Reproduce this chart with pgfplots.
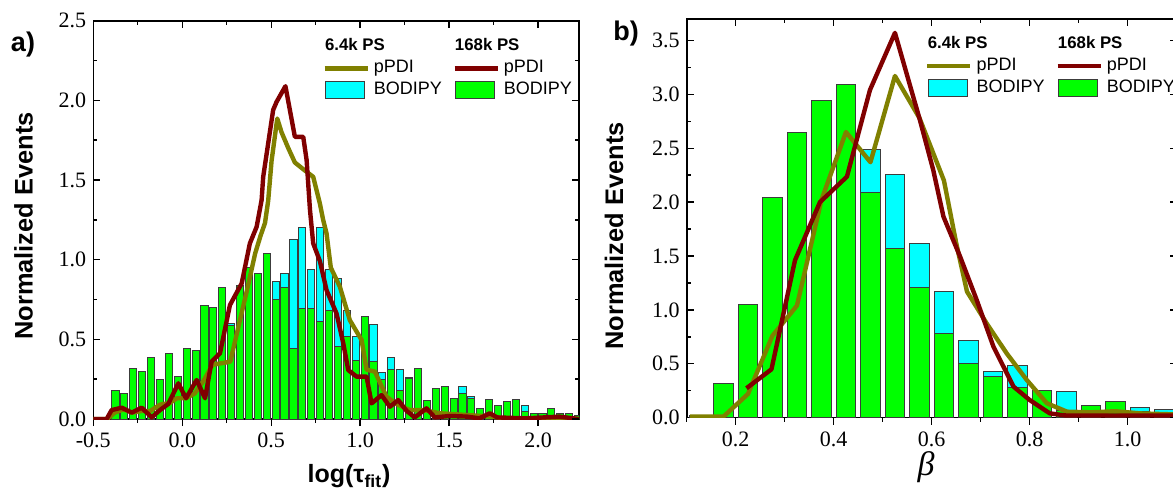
\documentclass[border=0pt]{standalone}
\usepackage{fontspec}
\setmainfont{Liberation Serif}
\setsansfont{Liberation Sans}
\usepackage{pgfplots}
\pgfplotsset{compat=1.18}
\usepackage{pgfplotstable}

\definecolor{olivl}{RGB}{128,128,0}
\definecolor{wine}{RGB}{128,0,0}
\definecolor{cyanb}{RGB}{0,255,255}
\definecolor{greenb}{RGB}{0,255,0}
\definecolor{edge}{RGB}{60,60,60}

\pgfplotstableread{
c g cy
-0.375 0.177 0.177
-0.325 0.157 0.157
-0.275 0.320 0.320
-0.225 0.300 0.300
-0.175 0.388 0.388
-0.125 0.247 0.247
-0.075 0.410 0.410
-0.025 0.265 0.265
0.025 0.445 0.445
0.075 0.429 0.429
0.125 0.713 0.713
0.175 0.700 0.700
0.225 0.826 0.826
0.275 0.590 0.600
0.325 0.840 0.840
0.375 0.950 0.950
0.425 0.912 0.912
0.475 1.036 1.036
0.525 0.750 0.863
0.575 0.825 0.916
0.625 0.445 1.125
0.675 0.695 1.200
0.725 0.695 0.939
0.775 0.612 1.200
0.825 0.680 0.939
0.875 0.456 0.882
0.925 0.516 0.678
0.975 0.370 0.520
1.025 0.642 0.642
1.075 0.360 0.596
1.125 0.249 0.290
1.175 0.312 0.387
1.225 0.178 0.312
1.275 0.252 0.260
1.325 0.318 0.318
1.375 0.119 0.119
1.425 0.193 0.193
1.475 0.207 0.207
1.525 0.127 0.130
1.575 0.157 0.203
1.625 0.130 0.144
1.675 0.065 0.065
1.725 0.123 0.123
1.775 0.086 0.086
1.825 0.109 0.109
1.875 0.123 0.123
1.925 0.048 0.086
1.975 0.036 0.036
2.025 0.036 0.036
2.075 0.065 0.065
2.125 0.036 0.036
2.175 0.036 0.036
2.225 0.020 0.020
}\barsA

\pgfplotstableread{
c g cy
0.125 0.025 0.025
0.175 0.320 0.320
0.225 1.050 1.050
0.275 2.040 2.040
0.325 2.650 2.650
0.375 2.940 2.940
0.425 3.090 3.090
0.475 2.090 2.490
0.525 1.570 2.260
0.575 1.210 1.620
0.625 0.780 1.170
0.675 0.500 0.720
0.725 0.380 0.430
0.775 0.280 0.480
0.825 0.250 0.250
0.875 0.070 0.240
0.925 0.110 0.110
0.975 0.150 0.150
1.025 0.060 0.090
1.075 0.050 0.080
}\barsB

\pgfplotsset{
  base/.style={
    scale only axis, anchor=south west,
    axis line style={line width=0.8pt},
    every tick/.style={line width=0.7pt, black},
    major tick length=3.5pt, minor tick length=2pt,
    /pgf/number format/assume math mode=true,
    /pgf/number format/fixed,
    /pgf/number format/fixed zerofill,
    /pgf/number format/precision=1,
    tick label style={font=\rmfamily\fontsize{11}{12}\selectfont},
    clip=true,
    legend cell align=left,
    legend style={draw=none, fill=none, inner sep=0pt, anchor=north west,
      font=\sffamily\fontsize{9}{10}\selectfont,
      nodes={inner xsep=2pt, inner ysep=0pt, text height=7.5pt, text depth=3.5pt}},
  },
  main/.style={base,
    xtick pos=lower, ytick pos=left,
    xtick align=outside, ytick align=inside,
  },
  over/.style={base,
    xtick pos=upper, ytick pos=right, tick align=inside,
    xticklabels={}, yticklabels={}, axis line style={draw=none},
  },
}

% one legend column: header, line, bar
\newcommand{\legcol}[3]{%
  \addlegendimage{legend image code/.code={\node[overlay,anchor=west,inner sep=0pt,font=\sffamily\bfseries\fontsize{8.4}{9}\selectfont] at (0pt,0pt) {#1};}}
  \addlegendentry{}
  \addlegendimage{legend image code/.code={\draw[#2,line width=2.2pt] (0pt,0pt) -- (21.5pt,0pt);}}
  \addlegendentry{pPDI}
  \addlegendimage{legend image code/.code={\draw[edge,fill=#3,line width=0.5pt] (0.5pt,-4.25pt) rectangle (20pt,4.25pt);}}
  \addlegendentry{BODIPY}
}

\begin{document}
\begin{tikzpicture}
\useasboundingbox (0,0) rectangle (586.5pt,-245.5pt);

% ---------- panel a ----------
\begin{axis}[main,
  at={(46.65pt,-209.5pt)}, width=242.85pt, height=199.15pt,
  xmin=-0.5, xmax=2.23, ymin=0, ymax=2.5,
  xtick={-0.5,0,0.5,1,1.5,2}, minor xtick={-0.25,0.25,0.75,1.25,1.75},
  ytick={0,0.5,1,1.5,2,2.5}, minor ytick={0.25,0.75,1.25,1.75,2.25},
  legend style={at={(0.471,0.964)}},
]
\legcol{6.4k PS}{olivl}{cyanb}
\addplot[ybar, bar width=0.04, bar shift=0pt, fill=cyanb, draw=edge, line width=0.5pt, forget plot] table[x=c, y=cy]{\barsA};
\addplot[ybar, bar width=0.04, bar shift=0pt, fill=greenb, draw=edge, line width=0.5pt, forget plot] table[x=c, y=g]{\barsA};
\addplot[olivl, line width=2.2pt, line join=round, forget plot] coordinates {
(-0.5,0) (-0.42,0) (-0.38,0.04) (-0.33,0.06) (-0.28,0.04) (-0.23,0.05) (-0.18,0.05)
(-0.125,0.09) (-0.07,0.10) (-0.03,0.13) (0.02,0.13) (0.07,0.16) (0.12,0.24) (0.17,0.34)
(0.22,0.35) (0.27,0.36) (0.32,0.6) (0.36,0.79) (0.41,1.04) (0.44,1.15) (0.465,1.23)
(0.483,1.37) (0.502,1.62) (0.534,1.886) (0.558,1.80) (0.596,1.70) (0.633,1.61)
(0.689,1.56) (0.736,1.52) (0.774,1.35) (0.792,1.25) (0.811,1.165) (0.835,0.95)
(0.886,0.83) (0.942,0.62) (1.008,0.496) (1.036,0.31) (1.083,0.297) (1.148,0.14)
(1.204,0.094) (1.279,0.056) (1.354,0.056) (1.448,0.036) (1.598,0.025) (1.747,0.015)
(1.82,0) (2.23,0)};
\addplot[wine, line width=2.2pt, line join=round, forget plot] coordinates {
(-0.5,0) (-0.425,0) (-0.397,0.056) (-0.34,0.071) (-0.284,0.04) (-0.228,0.071)
(-0.172,0.01) (-0.125,0.056) (-0.079,0.094) (-0.022,0.224) (0.021,0.13) (0.081,0.245)
(0.128,0.13) (0.165,0.36) (0.212,0.412) (0.268,0.715) (0.334,0.851) (0.38,1.102)
(0.418,1.206) (0.446,1.374) (0.455,1.52) (0.483,1.73) (0.511,1.94) (0.53,1.99)
(0.58,2.089) (0.633,1.771) (0.68,1.771) (0.699,1.625) (0.718,1.311) (0.736,1.102)
(0.774,0.99) (0.811,0.809) (0.867,0.663) (0.905,0.475) (0.933,0.307) (0.98,0.266)
(1.036,0.266) (1.064,0.098) (1.12,0.15) (1.167,0.077) (1.214,0.119) (1.26,0.052)
(1.307,0.01) (1.373,0.067) (1.42,0.01) (1.504,0.019) (1.6,0.015) (1.67,0.004)
(1.729,0.036) (1.77,0.01) (1.93,0.004) (2.12,0.015) (2.23,0)};
\end{axis}
\begin{axis}[over,
  at={(46.65pt,-209.5pt)}, width=242.85pt, height=199.15pt,
  xmin=-0.5, xmax=2.23, ymin=0, ymax=2.5,
  xtick={-0.5,0,0.5,1,1.5,2}, minor xtick={-0.25,0.25,0.75,1.25,1.75},
  ytick={0,0.5,1,1.5,2,2.5}, minor ytick={0.25,0.75,1.25,1.75,2.25},
  legend style={at={(0.7385,0.964)}},
]
\legcol{168k PS}{wine}{greenb}
\end{axis}

% ---------- panel b ----------
\begin{axis}[main,
  at={(343.35pt,-208.85pt)}, width=245pt, height=199.43pt,
  xmin=0.1, xmax=1.1, ymin=0, ymax=3.7,
  xtick={0.2,0.4,0.6,0.8,1.0}, minor xtick={0.1,0.3,0.5,0.7,0.9,1.1},
  ytick={0,0.5,1,1.5,2,2.5,3,3.5}, minor ytick={0.25,0.75,1.25,1.75,2.25,2.75,3.25},
  legend style={at={(0.486,0.965)}},
]
\legcol{6.4k PS}{olivl}{cyanb}
\addplot[ybar, bar width=0.04, bar shift=0pt, fill=cyanb, draw=edge, line width=0.5pt, forget plot] table[x=c, y=cy]{\barsB};
\addplot[ybar, bar width=0.04, bar shift=0pt, fill=greenb, draw=edge, line width=0.5pt, forget plot] table[x=c, y=g]{\barsB};
\addplot[olivl, line width=2.2pt, line join=round, forget plot] coordinates {
(0.107,0.01) (0.175,0.01) (0.225,0.22) (0.275,0.76) (0.325,1.04) (0.375,2.02)
(0.425,2.65) (0.475,2.37) (0.525,3.17) (0.575,2.78) (0.625,2.2) (0.65,1.62) (0.672,1.17)
(0.712,0.876) (0.753,0.597) (0.794,0.35) (0.835,0.134) (0.876,0.056) (0.925,0.05)
(0.975,0.06) (1.025,0.04) (1.1,0.03)};
\addplot[wine, line width=2.2pt, line join=round, forget plot] coordinates {
(0.222,0.273) (0.273,0.449) (0.321,1.46) (0.372,2.0) (0.427,2.236) (0.474,3.04)
(0.525,3.57) (0.576,2.76) (0.603,2.30) (0.624,1.865) (0.658,1.494) (0.692,1.09)
(0.726,0.659) (0.767,0.288) (0.80,0.164) (0.841,0.04) (0.875,0.02) (1.1,0.02)};
\end{axis}
\begin{axis}[over,
  at={(343.35pt,-208.85pt)}, width=245pt, height=199.43pt,
  xmin=0.1, xmax=1.1, ymin=0, ymax=3.7,
  xtick={0.2,0.4,0.6,0.8,1.0}, minor xtick={0.1,0.3,0.5,0.7,0.9,1.1},
  ytick={0,0.5,1,1.5,2,2.5,3,3.5}, minor ytick={0.25,0.75,1.25,1.75,2.25,2.75,3.25},
  legend style={at={(0.7516,0.965)}},
]
\legcol{168k PS}{wine}{greenb}
\end{axis}

% ---------- labels ----------
\node[font=\sffamily\bfseries\fontsize{13.5}{15}\selectfont] at (11.5pt,-22.5pt) {a)};
\node[font=\sffamily\bfseries\fontsize{13.5}{15}\selectfont] at (313pt,-17pt) {b)};
\node[rotate=90, font=\sffamily\bfseries\fontsize{12.7}{14}\selectfont] at (11.75pt,-113pt) {Normalized Events};
\node[rotate=90, font=\sffamily\bfseries\fontsize{12.7}{14}\selectfont] at (307pt,-118pt) {Normalized Events};
\node[anchor=base, font=\sffamily\bfseries\fontsize{12.5}{14}\selectfont] at (174.5pt,-241.5pt) {log(τ\textsubscript{fit})};
\node[anchor=base, font=\rmfamily\itshape\fontsize{17}{18}\selectfont] at (463pt,-238pt) {β};
\end{tikzpicture}
\end{document}
